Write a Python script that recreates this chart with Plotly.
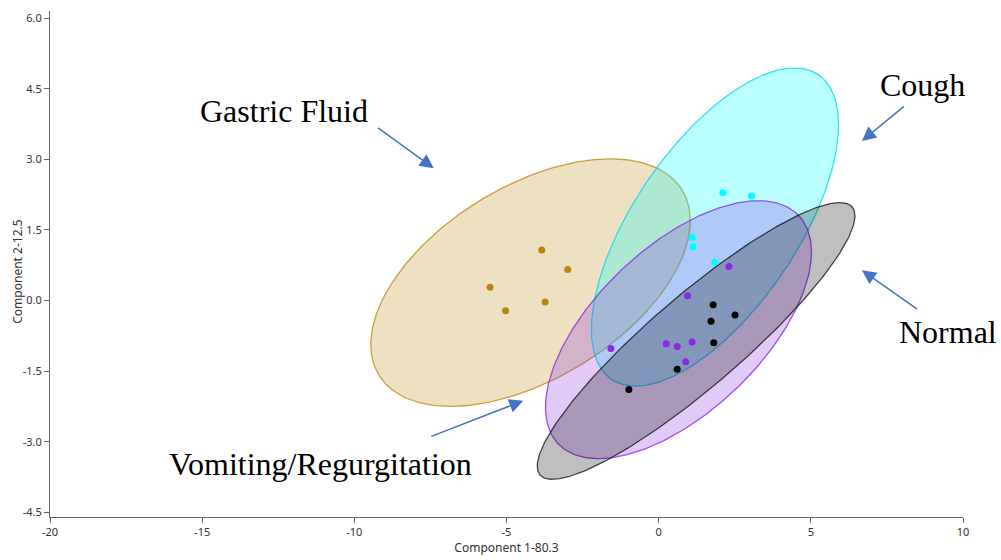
import numpy as np
import plotly.graph_objects as go

# ---- data ----
gastric_x = [-3.84, -2.99, -5.54, -3.73, -5.03]
gastric_y = [1.07, 0.66, 0.28, -0.03, -0.22]

cough_x = [2.11, 3.05, 1.10, 1.13, 1.84]
cough_y = [2.29, 2.22, 1.34, 1.14, 0.81]

vomit_x = [2.31, 0.95, -1.57, 0.25, 0.61, 1.10, 0.89]
vomit_y = [0.72, 0.10, -1.02, -0.92, -0.98, -0.88, -1.30]

normal_x = [1.79, 2.51, 1.72, 1.81, 0.61, -0.98]
normal_y = [-0.09, -0.31, -0.44, -0.90, -1.46, -1.89]

# ellipse parameters: center x, center y, half x-extent, half y-extent, phase (deg)
ell_names = ["Gastric Fluid", "Cough", "Vomiting/Regurgitation", "Normal"]
ell_cx = [-4.21, 1.85, 0.65, 1.23]
ell_cy = [0.38, 1.56, -0.62, -0.86]
ell_ax = [5.25, 4.06, 4.37, 5.22]
ell_by = [2.63, 3.38, 2.74, 2.94]
ell_phase = [60.0, 50.0, 53.0, 25.3]

x_ticks = [-20, -15, -10, -5, 0, 5, 10]
y_ticks = [-4.5, -3.0, -1.5, 0.0, 1.5, 3.0, 4.5, 6.0]

colors = ["rgb(184,134,11)", "rgb(0,255,255)", "rgb(138,43,226)", "rgb(0,0,0)"]
fills = ["rgba(184,134,11,0.25)", "rgba(0,255,255,0.27)", "rgba(138,43,226,0.25)", "rgba(0,0,0,0.25)"]
lines = ["rgba(184,134,11,0.75)", "rgba(0,220,230,0.8)", "rgba(138,43,226,0.8)", "rgba(0,0,0,0.7)"]

fig = go.Figure()

t = np.linspace(0, 2 * np.pi, 300)
for i in range(4):
    ph = np.deg2rad(ell_phase[i])
    ex = ell_cx[i] + ell_ax[i] * np.cos(t)
    ey = ell_cy[i] + ell_by[i] * np.cos(t - ph)
    fig.add_trace(go.Scatter(x=ex, y=ey, mode="lines", fill="toself",
                             fillcolor=fills[i], line=dict(color=lines[i], width=1.3),
                             hoverinfo="skip", showlegend=False))

pts = [(gastric_x, gastric_y), (cough_x, cough_y), (vomit_x, vomit_y), (normal_x, normal_y)]
for i, (px, py) in enumerate(pts):
    fig.add_trace(go.Scatter(x=px, y=py, mode="markers",
                             marker=dict(color=colors[i], size=7, line=dict(width=0)),
                             name=ell_names[i], showlegend=False))

# labels
label_text = ["Gastric Fluid", "Cough", "Normal", "Vomiting/Regurgitation"]
label_x = [-12.30, 8.67, 9.52, -11.11]
label_y = [4.02, 4.58, -0.66, -3.48]
for tx, lx, ly in zip(label_text, label_x, label_y):
    fig.add_annotation(x=lx, y=ly, text=tx, showarrow=False, xanchor="center", yanchor="middle",
                       font=dict(family="Liberation Serif", size=32, color="black"))

# arrows: tail -> tip
arrow_tail_x = [-9.27, 8.11, 8.53, -7.52]
arrow_tail_y = [3.69, 4.15, -0.20, -2.90]
arrow_tip_x = [-7.39, 6.68, 6.68, -4.45]
arrow_tip_y = [2.81, 3.39, 0.64, -2.13]
for tx, ty, hx, hy in zip(arrow_tail_x, arrow_tail_y, arrow_tip_x, arrow_tip_y):
    fig.add_annotation(x=hx, y=hy, ax=tx, ay=ty, xref="x", yref="y", axref="x", ayref="y",
                       text="", showarrow=True, arrowhead=2, arrowsize=2.0, arrowwidth=1.4,
                       arrowcolor="#4472C4")

title_font = dict(family="Noto Sans", size=12, color="#333333")
fig.add_annotation(x=-0.036, y=0.485, xref="paper", yref="paper", text="Component 2-12.5",
                   textangle=-90, showarrow=False, xanchor="center", yanchor="middle",
                   font=title_font)

axis_font = dict(family="Noto Sans", size=11, color="#333333")
fig.update_xaxes(range=[-20, 10], tickvals=x_ticks, ticktext=[str(v) for v in x_ticks],
                 showline=True, linecolor="#666666", linewidth=1, ticks="outside", ticklen=5,
                 tickcolor="#666666", showgrid=False, zeroline=False, tickfont=axis_font,
                 title=dict(text="Component 1-80.3", font=title_font, standoff=2))
fig.update_yaxes(range=[-4.6, 6.15], tickvals=y_ticks, ticktext=[f"{v:.1f}" for v in y_ticks],
                 showline=True, linecolor="#666666", linewidth=1, ticks="outside", ticklen=5,
                 tickcolor="#666666", showgrid=False, zeroline=False, tickfont=axis_font)

fig.update_layout(width=1001, height=560, margin=dict(l=50, r=38, t=10, b=42),
                  plot_bgcolor="white", paper_bgcolor="white", showlegend=False)

fig.write_html("out.html")
